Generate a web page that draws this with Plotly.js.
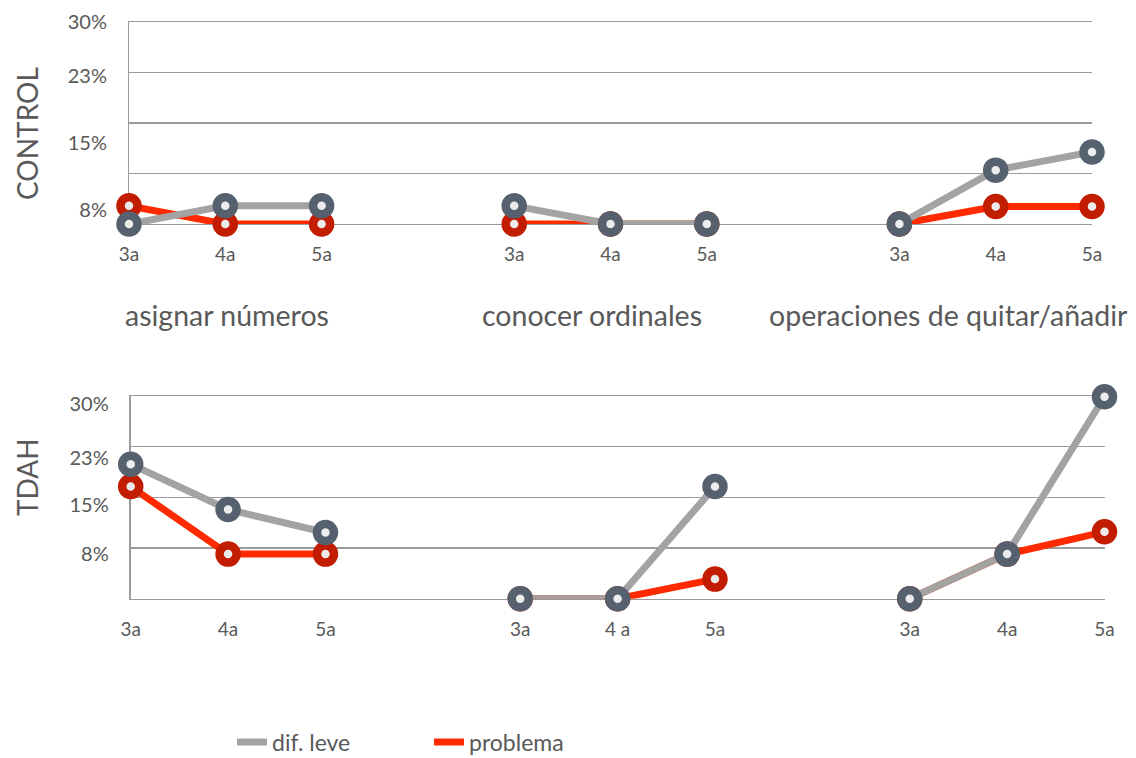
<!DOCTYPE html>
<html><head><meta charset="utf-8">
<script src="https://cdn.plot.ly/plotly-3.0.1.min.js"></script>
<style>html,body{margin:0;padding:0;background:#fff;width:1136px;height:758px;overflow:hidden;}#chart{width:1136px;height:758px;overflow:hidden;display:block;}</style>
</head><body><div id="chart"></div>
<script>
// ---- data ----
const groups = ['asignar números', 'conocer ordinales', 'operaciones de quitar/añadir'];
const agesControl = [['3a','4a','5a'], ['3a','4a','5a'], ['3a','4a','5a']];
const agesTDAH = [['3a','4a','5a'], ['3a','4 a','5a'], ['3a','4a','5a']];
const panels = ['CONTROL', 'TDAH'];
const seriesNames = ['dif. leve', 'problema'];
const controlLeve = [[0, 2.7, 2.7], [2.7, 0, 0], [0, 8.0, 10.7]];
const controlProblema = [[2.7, 0, 0], [0, 0, 0], [0, 2.6, 2.6]];
const tdahLeve = [[19.9, 13.2, 9.8], [0, 0, 16.6], [0, 6.6, 29.9]];
const tdahProblema = [[16.6, 6.6, 6.6], [0, 0, 2.9], [0, 6.6, 9.9]];
const yTickText = ['8%', '15%', '23%', '30%'];

// ---- style ----
const FONT = 'Lato, "Open Sans", sans-serif';
const TXT = '#595959';
const GRID = '#9b9b9b';
const lineCol = {leve: '#a3a3a3', prob: '#ff2a00'};
const markCol = {leve: '#56616f', prob: '#c21d00'};
const dotFill = '#ececec';
const W = 1136, H = 758;
const gridValues = [7.5, 15, 22.5];
const labelPosControl = [2.1, 12.0, 22.0, 30];
const labelPosTDAH = [6.6, 13.9, 20.8, 28.8];
const GAP = 4; // slots per group (3 ages + 1 gap)

function xs(g, n) { return Array.from({length: n}, (_, i) => g * GAP + i); }

const traces = [];
function addPanel(leve, prob, xa, ya) {
  groups.forEach((_, g) => {
    traces.push({
      x: xs(g, prob[g].length), y: prob[g], xaxis: xa, yaxis: ya, mode: 'lines+markers',
      name: seriesNames[1], showlegend: false, cliponaxis: false, hoverinfo: 'y',
      line: {color: lineCol.prob, width: 7},
      marker: {size: 17, color: dotFill, line: {color: markCol.prob, width: 8.5}}
    });
    traces.push({
      x: xs(g, leve[g].length), y: leve[g], xaxis: xa, yaxis: ya, mode: 'lines+markers',
      name: seriesNames[0], showlegend: false, cliponaxis: false, hoverinfo: 'y',
      line: {color: lineCol.leve, width: 7},
      marker: {size: 17, color: dotFill, line: {color: markCol.leve, width: 8.5}}
    });
  });
}
addPanel(controlLeve, controlProblema, 'x', 'y');
addPanel(tdahLeve, tdahProblema, 'x2', 'y2');
// label-only overlay axes (need a trace to exist)
traces.push({x: [null], y: [null], xaxis: 'x', yaxis: 'y3', showlegend: false, hoverinfo: 'skip'});
traces.push({x: [null], y: [null], xaxis: 'x2', yaxis: 'y4', showlegend: false, hoverinfo: 'skip'});
// legend entries
traces.push({x: [null], y: [null], mode: 'lines', name: seriesNames[0], line: {color: lineCol.leve, width: 7}, showlegend: true});
traces.push({x: [null], y: [null], mode: 'lines', name: seriesNames[1], line: {color: lineCol.prob, width: 7}, showlegend: true});

const tickVals = groups.flatMap((_, g) => xs(g, 3));
const px = v => v / W, py = v => (H - v) / H;

function xAxis(domain, anchor, ticktext) {
  return {
    domain: domain, anchor: anchor, range: [0, (groups.length - 1) * GAP + 2], tickmode: 'array',
    tickvals: tickVals, ticktext: ticktext, showgrid: false, zeroline: false,
    showline: true, mirror: true, linecolor: GRID, linewidth: 1.3, layer: 'below traces',
    ticks: '', ticklabelstandoff: 13, tickfont: {family: FONT, size: 19, color: TXT}, automargin: false, fixedrange: true
  };
}
function gridAxis(domain, anchor) {
  return {
    domain: domain, anchor: anchor, range: [0, 30], tickmode: 'array', tickvals: gridValues,
    showticklabels: false, showgrid: true, gridcolor: GRID, gridwidth: 1.3, zeroline: false,
    showline: true, linecolor: GRID, linewidth: 1.3, layer: 'below traces',
    ticks: '', automargin: false, fixedrange: true
  };
}
function labelAxis(overlay, anchor, pos) {
  return {
    overlaying: overlay, anchor: anchor, side: 'left', range: [0, 30], tickmode: 'array',
    tickvals: pos, ticktext: yTickText, showgrid: false, zeroline: false, showline: false,
    ticks: '', ticklabelstandoff: 21, tickfont: {family: FONT, size: 20, color: TXT}, automargin: false, fixedrange: true
  };
}

const layout = {
  width: W, height: H, margin: {l: 0, r: 0, t: 0, b: 0, autoexpand: false},
  paper_bgcolor: '#fff', plot_bgcolor: 'rgba(0,0,0,0)',
  font: {family: FONT, color: TXT},
  xaxis: xAxis([px(129), px(1092)], 'y', agesControl.flat()),
  yaxis: gridAxis([py(224), py(22)], 'x'),
  xaxis2: xAxis([px(130.7), px(1104.5)], 'y2', agesTDAH.flat()),
  yaxis2: gridAxis([py(598.7), py(396)], 'x2'),
  yaxis3: labelAxis('y', 'x', labelPosControl),
  yaxis4: labelAxis('y2', 'x2', labelPosTDAH),
  showlegend: true,
  legend: {orientation: 'h', x: px(232), y: py(742), xanchor: 'left', yanchor: 'middle',
           entrywidth: 152, entrywidthmode: 'pixels', font: {family: FONT, size: 23, color: TXT},
           bgcolor: 'rgba(0,0,0,0)'},
  annotations: [
    ...groups.map((t, g) => ({text: t, xref: 'paper', yref: 'paper', x: px([227, 592, 948][g]), y: py(315),
      xanchor: 'center', yanchor: 'middle', showarrow: false, font: {family: FONT, size: 28.5, color: TXT}})),
    ...panels.map((t, p) => ({text: t, xref: 'paper', yref: 'paper', x: px(27), y: py([134, 477][p]),
      xanchor: 'center', yanchor: 'middle', textangle: -90, showarrow: false, font: {family: FONT, size: 28, color: TXT}}))
  ]
};

Plotly.newPlot('chart', traces, layout, {displayModeBar: false, staticPlot: true});
</script></body></html>
